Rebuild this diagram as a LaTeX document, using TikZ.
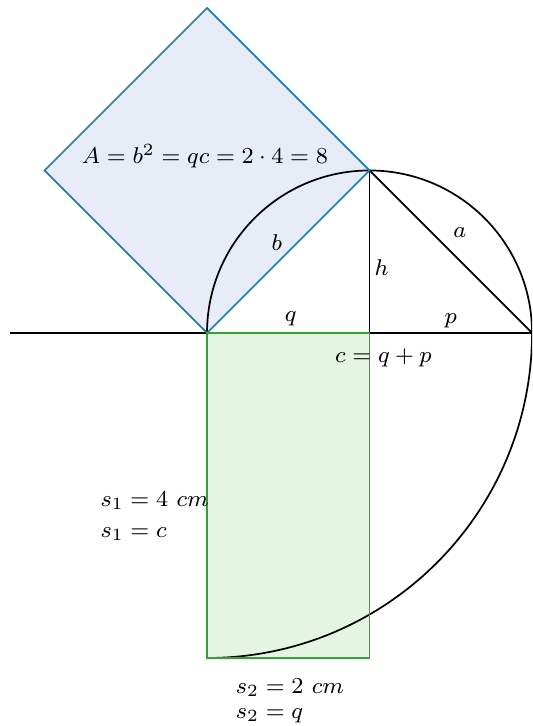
\documentclass[tikz,border=0pt]{standalone}
\begin{document}
\begin{tikzpicture}[
  line width=0.6pt,
  sqfill/.style={fill={rgb,255:red,232;green,236;blue,246}},
  sqborder/.style={draw={rgb,255:red,30;green,128;blue,168}},
  rcfill/.style={fill={rgb,255:red,228;green,245;blue,226}},
  rcborder/.style={draw={rgb,255:red,55;green,160;blue,50}},
  lbl/.style={font=\fontsize{8.2}{10}\selectfont, inner sep=0pt}
]
\useasboundingbox (-2.548,-4.837) rectangle (4.0,4.098);
\coordinate (A) at (0,0);
\coordinate (B) at (4,0);
\coordinate (C) at (2,2);
\coordinate (D) at (2,0);
\coordinate (E) at (0,4);
\coordinate (F) at (-2,2);
\coordinate (G) at (2,-4);
\coordinate (H) at (0,-4);
\coordinate (L) at (-2.42,0);
% fills
\fill[sqfill] (A) -- (C) -- (E) -- (F) -- cycle;
\fill[rcfill] (A) -- (D) -- (G) -- (H) -- cycle;
% black lines
\begin{scope}
\clip (-2.548,-4.837) rectangle (4.0,4.098);
\draw (L) -- (B);
\draw (A) arc[start angle=180, end angle=0, radius=2];
\draw (C) -- (D);
\draw (C) -- (B);
\draw (B) arc[start angle=0, end angle=-90, radius=4];
\end{scope}
% borders
\draw[sqborder] (A) -- (C) -- (E) -- (F) -- cycle;
\draw[rcborder] (A) -- (D) -- (G) -- (H) -- cycle;
% labels
\node[lbl] (tA) at (-0.025,2.17) {$A=b^2=qc=2\cdot 4=8$};
\node[lbl] (tb) at (0.86,1.11) {$b$};
\node[lbl] (th) at (2.15,0.80) {$h$};
\node[lbl] (ta) at (3.11,1.24) {$a$};
\node[lbl] (tq) at (1.03,0.18) {$q$};
\node[lbl] (tp) at (3.0,0.15) {$p$};
\node[lbl] (tc) at (2.17,-0.31) {$c=q+p$};
\node[lbl, anchor=west] (s1a) at (-1.32,-2.06) {$s_1=4\ cm$};
\node[lbl, anchor=west] (s1b) at (-1.32,-2.47) {$s_1=c$};
\node[lbl, anchor=west] (s2a) at (0.345,-4.36) {$s_2=2\ cm$};
\node[lbl, anchor=west] (s2b) at (0.345,-4.71) {$s_2=q$};
\end{tikzpicture}
\end{document}
